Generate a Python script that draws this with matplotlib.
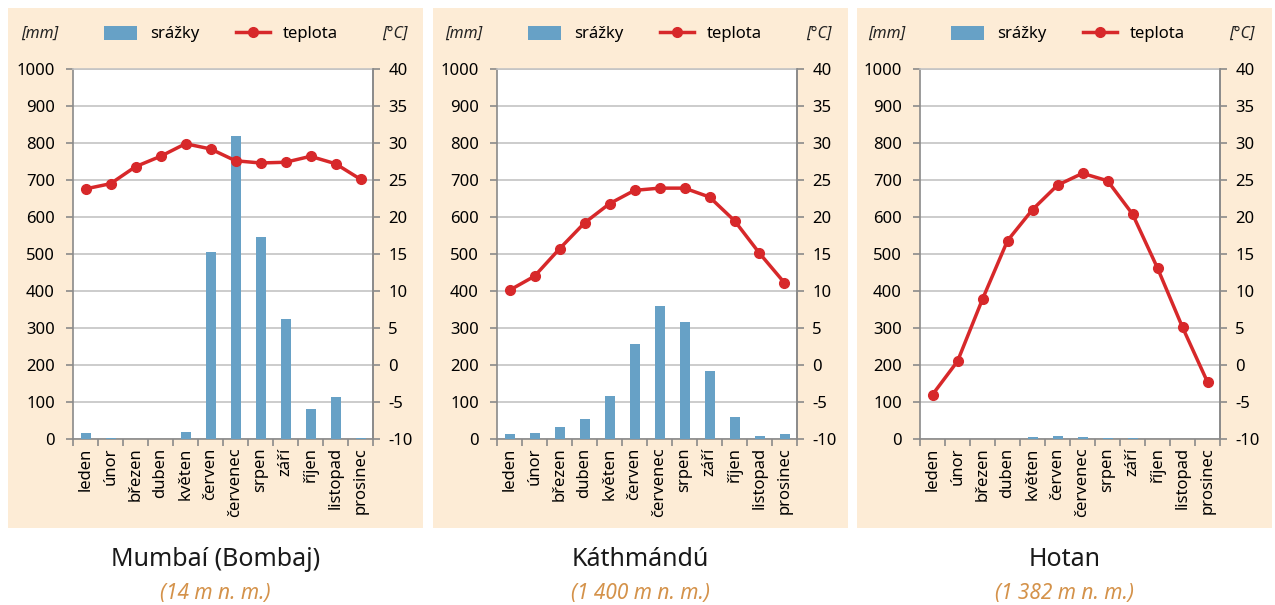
import matplotlib
matplotlib.use("Agg")
import matplotlib.pyplot as plt
from matplotlib.patches import Rectangle
from matplotlib.lines import Line2D
import numpy as np

plt.rcParams["font.family"] = ["Noto Sans", "DejaVu Sans"]
plt.rcParams["axes.unicode_minus"] = False

# ---------------------------------------------------------------------------
# data
# ---------------------------------------------------------------------------
months = ["leden", "únor", "březen", "duben", "květen", "červen",
          "červenec", "srpen", "září", "říjen", "listopad", "prosinec"]

cities = ["Mumbaí (Bombaj)", "Káthmándú", "Hotan"]
altitudes = ["(14 m n. m.)", "(1 400 m n. m.)", "(1 382 m n. m.)"]

mumbai_rain = [15, 2, 0, 0, 20, 505, 820, 545, 325, 80, 113, 3]
mumbai_temp = [23.8, 24.5, 26.8, 28.2, 29.9, 29.2, 27.6, 27.3, 27.4, 28.2, 27.2, 25.1]

kathmandu_rain = [14, 17, 32, 55, 115, 257, 360, 315, 183, 60, 8, 14]
kathmandu_temp = [10.1, 12.0, 15.7, 19.2, 21.8, 23.6, 23.9, 23.9, 22.7, 19.5, 15.1, 11.1]

hotan_rain = [1, 1, 1, 1, 5, 8, 5, 4, 2, 1, 0, 1]
hotan_temp = [-4.0, 0.5, 8.9, 16.8, 21.0, 24.3, 25.9, 24.9, 20.4, 13.1, 5.1, -2.3]

rain_sets = [mumbai_rain, kathmandu_rain, hotan_rain]
temp_sets = [mumbai_temp, kathmandu_temp, hotan_temp]

BAR = "#67a1c6"
LINE = "#d7282a"
PANEL = "#fdecd6"
GRID = "#c4c4c4"
SPINE = "#8a8a8a"
ORANGE = "#d4924a"

W, H = 1275, 605
fig = plt.figure(figsize=(W / 100, H / 100), dpi=100)
fig.patch.set_facecolor("white")

panel_left = [8, 433, 857]
panel_w = 415
axes_left = [73, 497, 920]
axes_w = 300


def fx(px):
    return px / W


def fy(py):
    return 1 - py / H


for i in range(3):
    # beige panel background (behind the axes)
    fig.patches.append(Rectangle((fx(panel_left[i]), fy(528)), panel_w / W, 520 / H,
                                 transform=fig.transFigure, facecolor=PANEL,
                                 edgecolor="none", zorder=-5))

    ax = fig.add_axes([fx(axes_left[i]), fy(439), axes_w / W, 370 / H])
    ax.set_facecolor("white")
    x = np.arange(12)
    ax.bar(x, rain_sets[i], width=0.4, color=BAR, zorder=3)
    ax.set_xlim(-0.5, 11.5)
    ax.set_ylim(0, 1000)
    ax.set_yticks(np.arange(0, 1001, 100))
    ax.yaxis.grid(True, color=GRID, lw=1.2, zorder=0)
    ax.set_axisbelow(True)
    ax.set_xticks(x)
    ax.set_xticklabels(months, rotation=90, fontsize=12)
    ax.tick_params(axis="x", which="major", length=0, pad=6)
    ax.set_xticks(np.arange(-0.5, 12, 1), minor=True)
    ax.tick_params(axis="x", which="minor", length=5, color=SPINE, width=1.2)
    ax.tick_params(axis="y", length=5, color=SPINE, width=1.2, labelsize=12, pad=8)
    for s in ["left", "bottom", "right"]:
        ax.spines[s].set_color(SPINE)
        ax.spines[s].set_linewidth(1.2)
    ax.spines["top"].set_color(GRID)
    ax.spines["top"].set_linewidth(1.2)

    ax2 = ax.twinx()
    ax2.plot(x, temp_sets[i], color=LINE, lw=2.5, marker="o", ms=7, zorder=5)
    ax2.set_ylim(-10, 40)
    ax2.set_yticks(np.arange(-10, 41, 5))
    ax2.tick_params(axis="y", length=5, color=SPINE, width=1.2, labelsize=12, pad=6)
    ax2.spines["right"].set_color(SPINE)
    ax2.spines["right"].set_linewidth(1.2)
    for s in ["left", "bottom", "top"]:
        ax2.spines[s].set_visible(False)

    # units
    fig.text(fx(axes_left[i] - 33), fy(34), "[mm]", fontsize=11.5, style="italic",
             ha="center", va="center", color="#222222")
    fig.text(fx(axes_left[i] + axes_w + 22), fy(34), "[°C]", fontsize=11.5,
             style="italic", ha="center", va="center", color="#222222")

    # legend
    handles = [Rectangle((0, 0), 1, 1, facecolor=BAR, edgecolor="none"),
               Line2D([0], [0], color=LINE, lw=2.5, marker="o", ms=7)]
    fig.legend(handles, ["srážky", "teplota"], loc="center",
               bbox_to_anchor=(fx(axes_left[i] + 148), fy(34)), ncol=2,
               frameon=False, fontsize=12, handlelength=2.0, handleheight=0.9,
               columnspacing=2.2, handletextpad=0.8)

    # city title and altitude
    cx = fx(panel_left[i] + panel_w / 2)
    fig.text(cx, fy(559), cities[i], fontsize=18, ha="center", va="center",
             color="#1a1a1a")
    fig.text(cx, fy(594), altitudes[i], fontsize=15, style="italic", ha="center",
             va="center", color=ORANGE)

fig.savefig("out.png", dpi=100, facecolor="white")
